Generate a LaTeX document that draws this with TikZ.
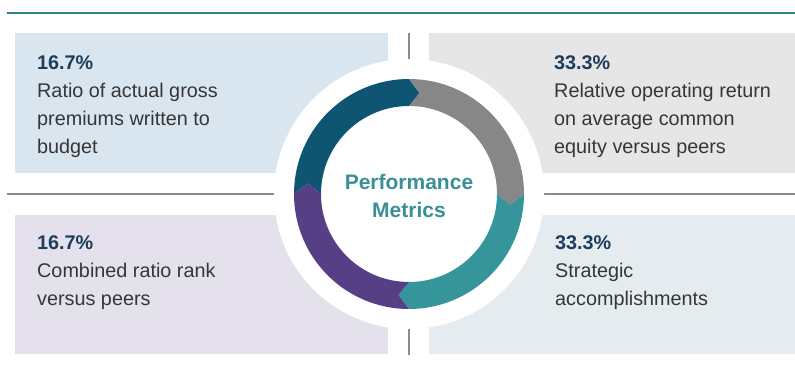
\documentclass[tikz,border=0pt]{standalone}
\usepackage{fontspec}
\setmainfont{Liberation Sans}
\usepackage{xcolor}
\usepackage{tikz}
\usetikzlibrary{positioning}
\definecolor{HeadTeal}{HTML}{2F7F85}
\definecolor{PanelBlue}{HTML}{D9E5EF}
\definecolor{PanelGrey}{HTML}{E6E6E6}
\definecolor{PanelLilac}{HTML}{E4E1EC}
\definecolor{PanelMist}{HTML}{E5ECF0}
\definecolor{RuleGrey}{HTML}{8C8C8C}
\definecolor{RingDark}{HTML}{0E5571}
\definecolor{RingGrey}{HTML}{878787}
\definecolor{RingTeal}{HTML}{35959B}
\definecolor{RingPurple}{HTML}{563F84}
\definecolor{TitleTeal}{HTML}{3A9096}
\definecolor{PctNavy}{HTML}{1D3D5B}
\definecolor{BodyGrey}{HTML}{363636}

\begin{document}
\begin{tikzpicture}[x=1pt, y=1pt,
    panel/.style={anchor=south west, inner sep=0pt, minimum width=373pt, minimum height=140pt},
    metric/.style={anchor=north west, inner sep=0pt, align=left, text=BodyGrey, font=\fontsize{19.8}{28}\selectfont}]
  \useasboundingbox (0,0) rectangle (795,368);

  \draw[HeadTeal, line width=2.5pt] (7,355) -- (795,355);

  \node[panel, fill=PanelBlue] (budgetbox) at (15,195) {};
  \node[panel, fill=PanelGrey, minimum width=366pt] (returnbox) at (429,195) {};
  \node[panel, fill=PanelLilac, minimum height=139pt] (ratiobox) at (15,14) {};
  \node[panel, fill=PanelMist, minimum width=366pt, minimum height=139pt] (strategybox) at (429,14) {};

  \draw[RuleGrey, line width=1.2pt] (7,174) -- (795,174);
  \draw[RuleGrey, line width=1.2pt] (409,13) -- (409,335);

  \fill[white] (409,174) circle[radius=135];

  \begin{scope}[shift={(409,174)}]
    \fill[RingDark] (180:115) arc[start angle=180, end angle=90, radius=115] -- (84:101.5) -- (90:88) arc[start angle=90, end angle=180, radius=88] -- (174:101.5) -- cycle;
    \fill[RingGrey] (90:115) arc[start angle=90, end angle=0, radius=115] -- (-6:101.5) -- (0:88) arc[start angle=0, end angle=90, radius=88] -- (84:101.5) -- cycle;
    \fill[RingTeal] (0:115) arc[start angle=0, end angle=-90, radius=115] -- (-96:101.5) -- (-90:88) arc[start angle=-90, end angle=0, radius=88] -- (-6:101.5) -- cycle;
    \fill[RingPurple] (-90:115) arc[start angle=-90, end angle=-180, radius=115] -- (-186:101.5) -- (-180:88) arc[start angle=-180, end angle=-90, radius=88] -- (-96:101.5) -- cycle;
  \end{scope}

  \node[align=center, text=TitleTeal, font=\fontsize{21}{28}\selectfont\bfseries] (title) at (409,172) {Performance\\Metrics};

  \node[metric] (budgettext) at (37,313) {{\bfseries\color{PctNavy}16.7\%}\\Ratio of actual gross\\premiums written to\\budget};
  \node[metric] (returntext) at (554,313) {{\bfseries\color{PctNavy}33.3\%}\\Relative operating return\\on average common\\equity versus peers};
  \node[metric] (ratiotext) at (37,133) {{\bfseries\color{PctNavy}16.7\%}\\Combined ratio rank\\versus peers};
  \node[metric] (strategytext) at (555,133) {{\bfseries\color{PctNavy}33.3\%}\\Strategic\\accomplishments};
\end{tikzpicture}
\end{document}
